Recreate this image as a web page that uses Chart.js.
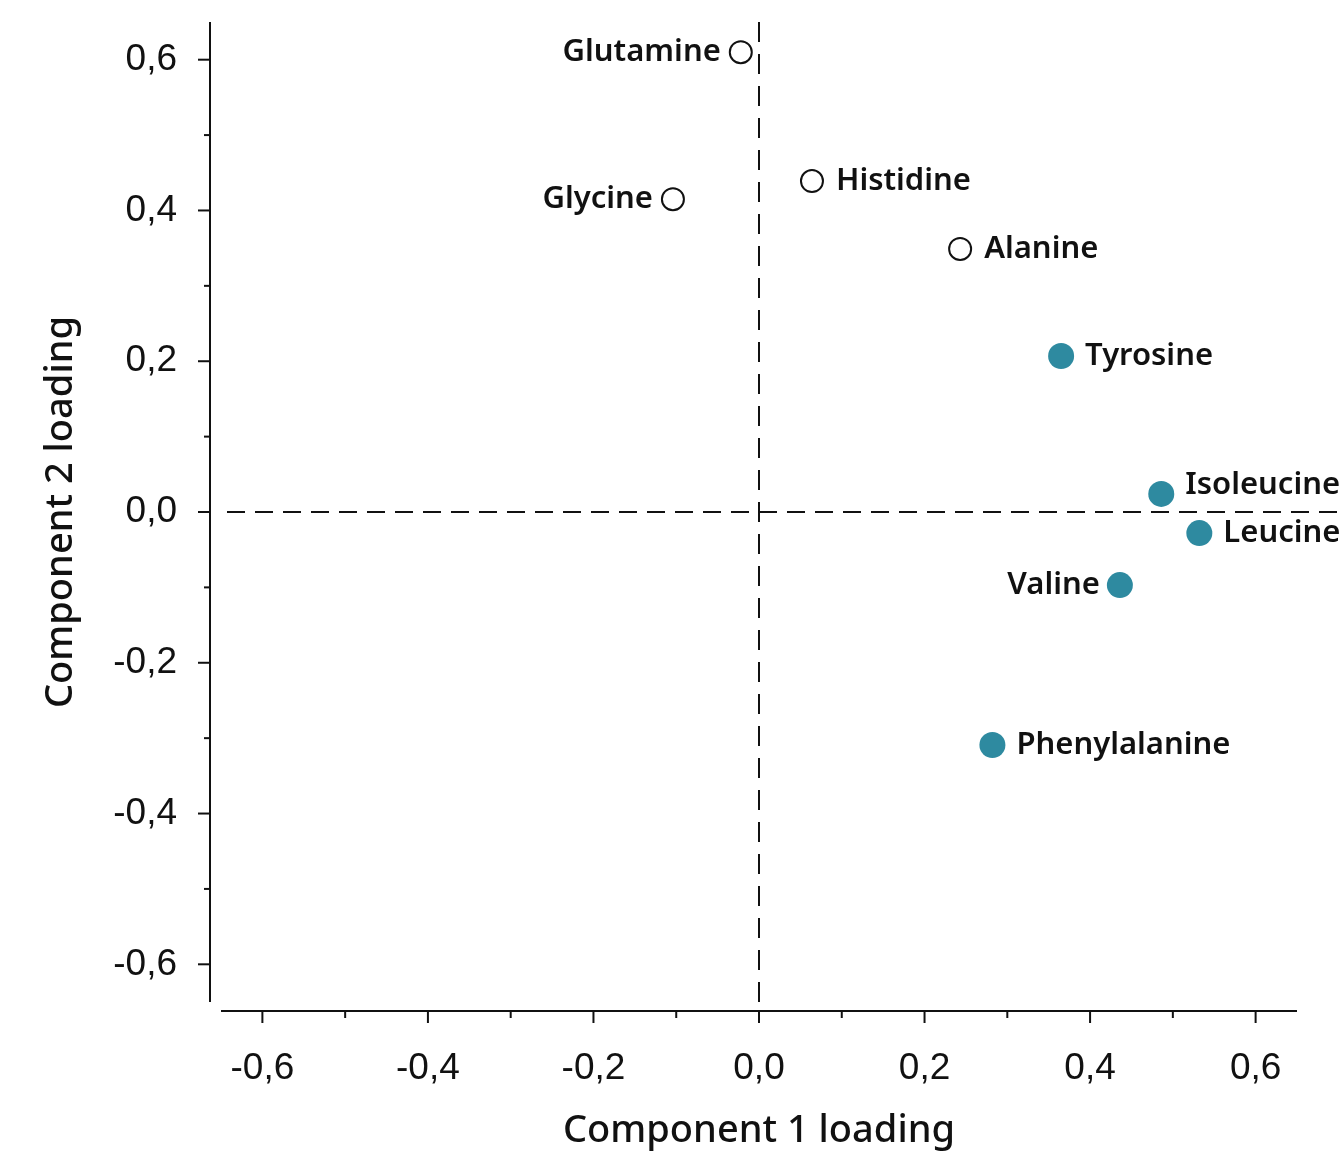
<!DOCTYPE html>
<html>
<head>
<meta charset="utf-8">
<script src="https://cdn.jsdelivr.net/npm/chart.js@4.4.1/dist/chart.umd.min.js"></script>
<style>
    body { margin: 0; background: #fff; }
    #wrap { width: 1344px; height: 1154px; }
</style>
</head>
<body>
<div id="wrap"><canvas id="loadingCanvas" width="1344" height="1154"></canvas></div>
<script>
// Amino acid loadings
const openNames = ['Glutamine', 'Glycine', 'Histidine', 'Alanine'];
const openX = [-0.022, -0.104, 0.064, 0.243];
const openY = [0.610, 0.415, 0.439, 0.349];

const filledNames = ['Tyrosine', 'Isoleucine', 'Leucine', 'Valine', 'Phenylalanine'];
const filledX = [0.365, 0.486, 0.532, 0.436, 0.282];
const filledY = [0.207, 0.024, -0.028, -0.097, -0.309];

// Axis ticks
const majorTicks = [-0.6, -0.4, -0.2, 0.0, 0.2, 0.4, 0.6];
const minorTicks = [-0.5, -0.3, -0.1, 0.1, 0.3, 0.5];

const teal = '#2e8aa0';
const labelFont = '600 31px "Noto Sans", sans-serif';
const tickFont = { family: '"Liberation Sans", Arial, sans-serif', size: 37 };
const titleFont = { family: '"Noto Sans", sans-serif', size: 38, weight: '500' };

function formatTick(v) {
    return v.toFixed(1).replace('.', ',');
}

function toPoints(xs, ys) {
    return xs.map((x, i) => ({ x: x, y: ys[i] }));
}

// Where each label sits relative to its point
const labelSide = {
    Glutamine: 'left', Glycine: 'left', Histidine: 'right', Alanine: 'right',
    Tyrosine: 'right', Isoleucine: 'right', Leucine: 'right', Valine: 'left', Phenylalanine: 'right'
};

// Draw axis lines, tick marks, zero lines and point labels
const decorPlugin = {
    id: 'decor',
    beforeDatasetsDraw(chart) {
        const ctx = chart.ctx;
        const xs = chart.scales.x;
        const ys = chart.scales.y;
        const area = chart.chartArea;
        ctx.save();
        ctx.strokeStyle = '#111';
        ctx.lineWidth = 2;

        // zero lines (dashed)
        ctx.setLineDash([18, 10]);
        const y0 = ys.getPixelForValue(0);
        ctx.beginPath();
        ctx.moveTo(area.left + 6, y0);
        ctx.lineTo(chart.width, y0);
        ctx.stroke();
        ctx.setLineDash([20, 12]);
        const x0 = xs.getPixelForValue(0);
        ctx.beginPath();
        ctx.moveTo(x0, area.top);
        ctx.lineTo(x0, area.bottom + 4);
        ctx.stroke();
        ctx.setLineDash([]);

        // y axis line, offset to the left
        const yAxisX = area.left - 11;
        ctx.beginPath();
        ctx.moveTo(yAxisX, area.top);
        ctx.lineTo(yAxisX, area.bottom);
        ctx.stroke();
        majorTicks.forEach(v => {
            const p = ys.getPixelForValue(v);
            ctx.beginPath();
            ctx.moveTo(yAxisX - 12, p);
            ctx.lineTo(yAxisX, p);
            ctx.stroke();
        });
        minorTicks.forEach(v => {
            const p = ys.getPixelForValue(v);
            ctx.beginPath();
            ctx.moveTo(yAxisX - 6, p);
            ctx.lineTo(yAxisX, p);
            ctx.stroke();
        });

        // x axis line, offset downwards
        const xAxisY = area.bottom + 9;
        ctx.beginPath();
        ctx.moveTo(area.left, xAxisY);
        ctx.lineTo(area.right, xAxisY);
        ctx.stroke();
        majorTicks.forEach(v => {
            const p = xs.getPixelForValue(v);
            ctx.beginPath();
            ctx.moveTo(p, xAxisY);
            ctx.lineTo(p, xAxisY + 12);
            ctx.stroke();
        });
        minorTicks.forEach(v => {
            const p = xs.getPixelForValue(v);
            ctx.beginPath();
            ctx.moveTo(p, xAxisY);
            ctx.lineTo(p, xAxisY + 7);
            ctx.stroke();
        });
        ctx.restore();
    },
    afterDatasetsDraw(chart) {
        const ctx = chart.ctx;
        ctx.save();
        ctx.font = labelFont;
        ctx.fillStyle = '#111';
        ctx.textBaseline = 'middle';
        chart.data.datasets.forEach((ds, di) => {
            const meta = chart.getDatasetMeta(di);
            meta.data.forEach((el, i) => {
                const name = ds.names[i];
                const side = labelSide[name];
                let dy = 0;
                if (name === 'Isoleucine') dy = -9;
                if (side === 'left') {
                    ctx.textAlign = 'right';
                    ctx.fillText(name, el.x - 20, el.y + dy);
                } else {
                    ctx.textAlign = 'left';
                    ctx.fillText(name, el.x + 24, el.y + dy);
                }
            });
        });
        ctx.restore();
    }
};

const chart = new Chart(document.getElementById('loadingCanvas'), {
    type: 'scatter',
    data: {
        datasets: [
            {
                label: 'open',
                names: openNames,
                data: toPoints(openX, openY),
                pointRadius: 11,
                pointBackgroundColor: '#fff',
                pointBorderColor: '#111',
                pointBorderWidth: 2
            },
            {
                label: 'filled',
                names: filledNames,
                data: toPoints(filledX, filledY),
                pointRadius: 13,
                pointBackgroundColor: teal,
                pointBorderColor: teal,
                pointBorderWidth: 0
            }
        ]
    },
    options: {
        responsive: false,
        animation: false,
        layout: {
            padding: { top: 22, right: 47, left: 0, bottom: 0 }
        },
        plugins: {
            legend: { display: false },
            tooltip: { enabled: false }
        },
        scales: {
            x: {
                type: 'linear',
                min: -0.65,
                max: 0.65,
                grid: { display: false },
                border: { display: false },
                afterBuildTicks: scale => { scale.ticks = majorTicks.map(v => ({ value: v })); },
                afterFit: scale => {
                    scale.height = 152;
                    scale.paddingLeft = 0;
                    scale.paddingRight = 0;
                },
                ticks: {
                    font: tickFont,
                    color: '#111',
                    padding: 37,
                    maxRotation: 0,
                    callback: v => formatTick(v)
                },
                title: {
                    display: true,
                    text: 'Component 1 loading',
                    font: titleFont,
                    color: '#111',
                    padding: { top: 0, bottom: 0 }
                }
            },
            y: {
                type: 'linear',
                min: -0.65,
                max: 0.65,
                grid: { display: false },
                border: { display: false },
                afterBuildTicks: scale => { scale.ticks = majorTicks.map(v => ({ value: v })); },
                afterFit: scale => {
                    scale.width = 221;
                    scale.paddingTop = 0;
                    scale.paddingBottom = 0;
                },
                ticks: {
                    font: tickFont,
                    color: '#111',
                    padding: 36,
                    callback: v => formatTick(v)
                },
                title: {
                    display: true,
                    text: 'Component 2 loading',
                    font: titleFont,
                    color: '#111',
                    padding: { top: 38, bottom: 0 }
                }
            }
        }
    },
    plugins: [decorPlugin]
});
</script>
</body>
</html>
